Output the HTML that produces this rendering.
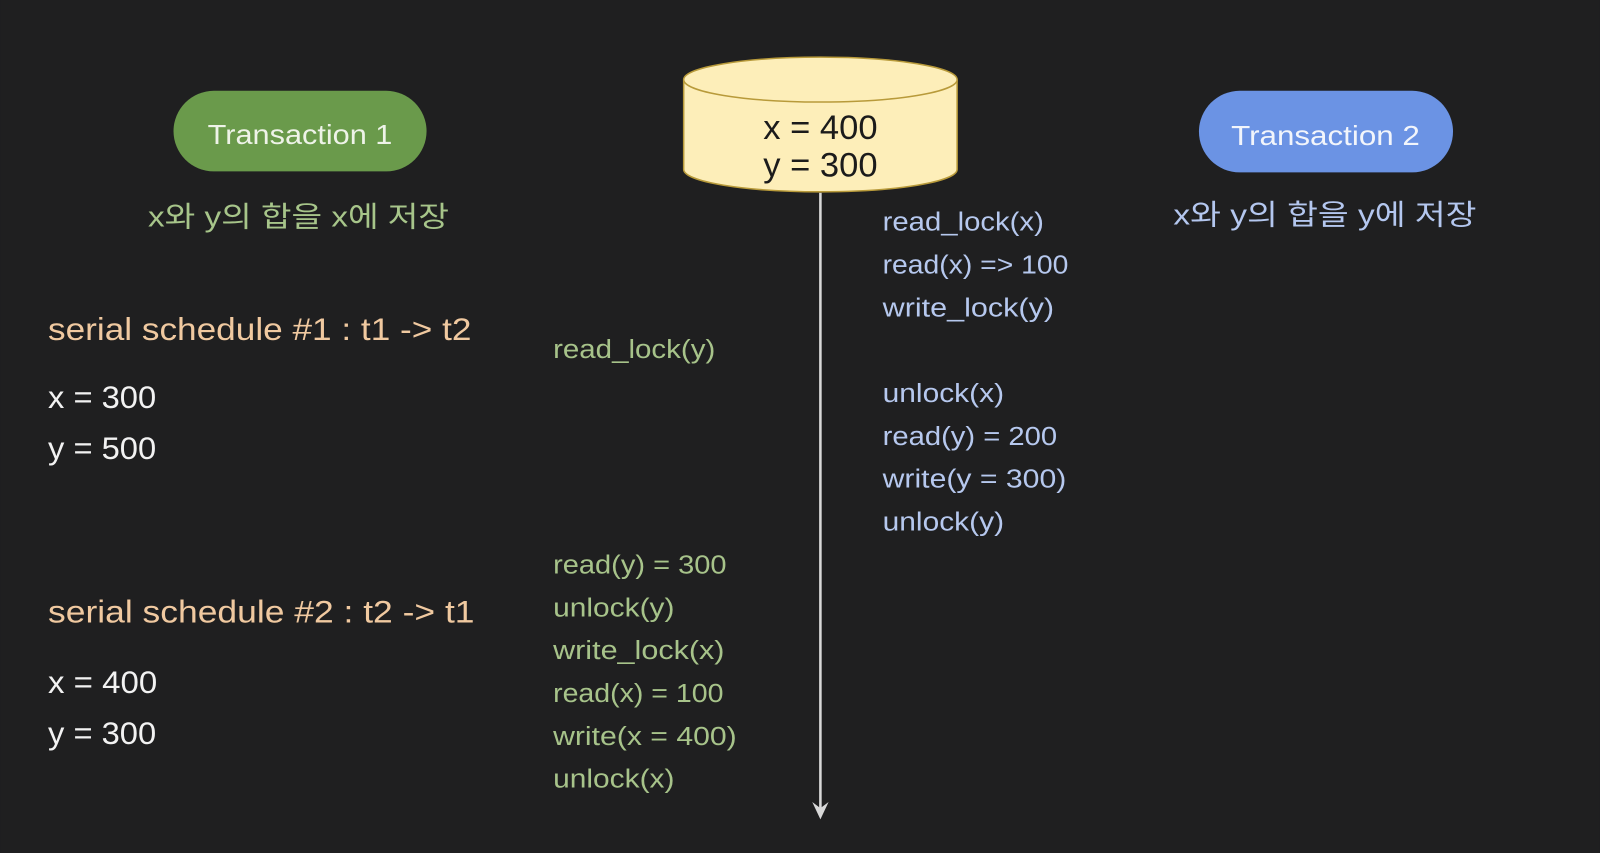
<!DOCTYPE html>
<html><head><meta charset="utf-8"><style>
html,body{margin:0;padding:0;background:#1f1f20;}
svg{display:block}
text{font-family:"Liberation Sans","Noto Sans CJK KR",sans-serif;}
</style></head><body>
<svg width="1600" height="853" viewBox="0 0 1568 836" xmlns="http://www.w3.org/2000/svg">
<rect width="1568" height="836" fill="#1f1f20"/>
<rect x="170" y="89" width="248" height="79" rx="39.5" fill="#6a9a4b"/>
<text x="294" y="141" font-size="27" fill="#eef3e8" text-anchor="middle" textLength="181" lengthAdjust="spacingAndGlyphs">Transaction 1</text>
<rect x="1175" y="89" width="249" height="80" rx="40" fill="#6b93e4"/>
<text x="1299" y="142" font-size="27" fill="#f2f5fb" text-anchor="middle" textLength="185" lengthAdjust="spacingAndGlyphs">Transaction 2</text>
<text x="145" y="222" font-size="28" fill="#a7c58a" textLength="295" lengthAdjust="spacingAndGlyphs">x와 y의 합을 x에 저장</text>
<text x="1150" y="220" font-size="28" fill="#b4c7ef" textLength="297" lengthAdjust="spacingAndGlyphs">x와 y의 합을 y에 저장</text>
<path d="M670 78 L670 166 A134 22 0 0 0 938 166 L938 78" fill="#fdeeb9" stroke="#b89a3a" stroke-width="1.5"/>
<ellipse cx="804" cy="78" rx="134" ry="22" fill="#fdeeb9" stroke="#b89a3a" stroke-width="1.5"/>
<text x="748" y="136" font-size="34" fill="#1b1b1b" textLength="112" lengthAdjust="spacingAndGlyphs">x = 400</text>
<text x="748" y="173" font-size="34" fill="#1b1b1b" textLength="112" lengthAdjust="spacingAndGlyphs">y = 300</text>
<line x1="804" y1="189" x2="804" y2="792" stroke="#d8d8d8" stroke-width="2.5"/>
<path d="M796 786 L804 803 L812 786 L804 792 Z" fill="#d8d8d8"/>
<g fill="#f0c9a0" font-size="31">
<text x="47" y="333" textLength="415" lengthAdjust="spacingAndGlyphs">serial schedule #1 : t1 -&gt; t2</text>
<text x="47" y="610" textLength="418" lengthAdjust="spacingAndGlyphs">serial schedule #2 : t2 -&gt; t1</text>
</g>
<g fill="#f2f2f2" font-size="31">
<text x="47" y="400" textLength="106" lengthAdjust="spacingAndGlyphs">x = 300</text>
<text x="47" y="450" textLength="106" lengthAdjust="spacingAndGlyphs">y = 500</text>
<text x="47" y="679" textLength="107" lengthAdjust="spacingAndGlyphs">x = 400</text>
<text x="47" y="729" textLength="106" lengthAdjust="spacingAndGlyphs">y = 300</text>
</g>
<g fill="#a7c38a" font-size="25.5">
<text x="542" y="351" textLength="159" lengthAdjust="spacingAndGlyphs">read_lock(y)</text>
<text x="542" y="562" textLength="170" lengthAdjust="spacingAndGlyphs">read(y) = 300</text>
<text x="542" y="604" textLength="119" lengthAdjust="spacingAndGlyphs">unlock(y)</text>
<text x="542" y="646" textLength="168" lengthAdjust="spacingAndGlyphs">write_lock(x)</text>
<text x="542" y="688" textLength="167" lengthAdjust="spacingAndGlyphs">read(x) = 100</text>
<text x="542" y="730" textLength="180" lengthAdjust="spacingAndGlyphs">write(x = 400)</text>
<text x="542" y="772" textLength="119" lengthAdjust="spacingAndGlyphs">unlock(x)</text>
</g>
<g fill="#b6c8ee" font-size="25.5">
<text x="865" y="226" textLength="158" lengthAdjust="spacingAndGlyphs">read_lock(x)</text>
<text x="865" y="268" textLength="182" lengthAdjust="spacingAndGlyphs">read(x) =&gt; 100</text>
<text x="865" y="310" textLength="168" lengthAdjust="spacingAndGlyphs">write_lock(y)</text>
<text x="865" y="394" textLength="119" lengthAdjust="spacingAndGlyphs">unlock(x)</text>
<text x="865" y="436" textLength="171" lengthAdjust="spacingAndGlyphs">read(y) = 200</text>
<text x="865" y="478" textLength="180" lengthAdjust="spacingAndGlyphs">write(y = 300)</text>
<text x="865" y="520" textLength="119" lengthAdjust="spacingAndGlyphs">unlock(y)</text>
</g>
</svg>
</body></html>
